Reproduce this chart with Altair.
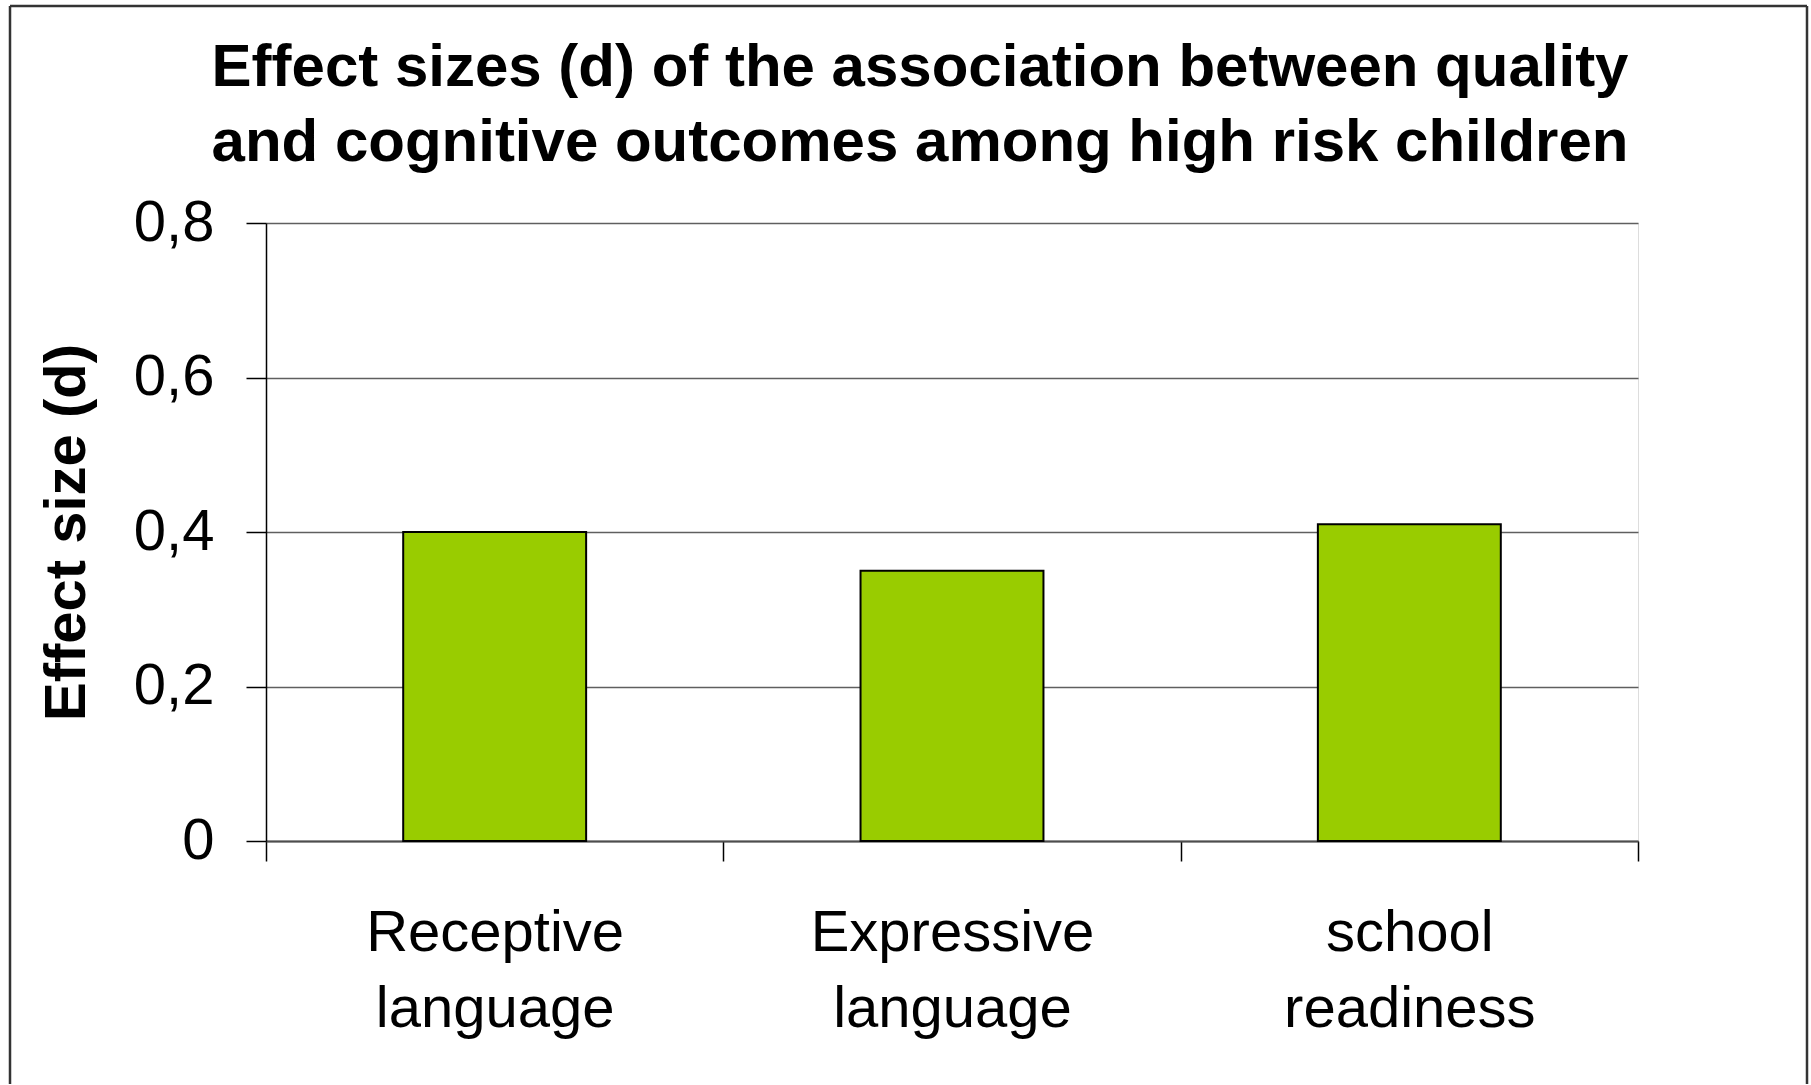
import json
import altair as alt
import pandas as pd

# Effect sizes (d) per cognitive outcome
outcomes = ["Receptive language", "Expressive language", "school readiness"]
label_lines = [["Receptive", "language"], ["Expressive", "language"], ["school", "readiness"]]
effect_sizes = [0.40, 0.35, 0.41]
y_ticks = [0, 0.2, 0.4, 0.6, 0.8]
title_lines = [
    "Effect sizes (d) of the association between quality",
    "and cognitive outcomes among high risk children",
]

df = pd.DataFrame({
    "outcome": outcomes,
    "idx": list(range(len(outcomes))),
    "d": effect_sizes,
})

FONT = "Liberation Sans"
W, H = 1372, 618

# category slots 0..3 on a linear scale: ticks at slot edges, labels at slot centres
slot_ticks = [i / 2 for i in range(2 * len(outcomes) + 1)]
label_expr = (
    f"datum.value % 1 == 0.5 ? {json.dumps(label_lines)}[floor(datum.value)] : ''"
)

x_axis = alt.Axis(
    values=slot_ticks,
    labelExpr=label_expr,
    title=None,
    grid=False,
    domainColor="#4d4d4d",
    domainWidth=2,
    tickColor="black",
    tickWidth=1.5,
    tickSize=20,
    tickOpacity={"condition": {"test": "datum.value % 1 == 0.5", "value": 0}, "value": 1},
    labelFont=FONT,
    labelFontSize=58,
    labelColor="black",
    labelLineHeight=76,
    labelPadding=43,
    labelLimit=0,
    labelFlush=False,
    labelOverlap=False,
)

y_axis = alt.Axis(
    values=y_ticks,
    labelExpr="replace(format(datum.value, '.1~f'), '.', ',')",
    title="Effect size (d)",
    titleFont=FONT,
    titleFontSize=58,
    titleFontWeight="bold",
    titleColor="black",
    titlePadding=37,
    grid=True,
    gridColor="#5f5f5f",
    gridWidth=1.3,
    domainColor="black",
    domainWidth=1.5,
    tickColor="black",
    tickWidth=1.5,
    tickSize=20,
    labelFont=FONT,
    labelFontSize=58,
    labelColor="black",
    labelPadding=32,
    labelLimit=0,
    labelFlush=False,
)

bars = (
    alt.Chart(df)
    .transform_calculate(x0="datum.idx + 0.3", x1="datum.idx + 0.7", base="0")
    .mark_bar(color="#99CC00", stroke="black", strokeWidth=2)
    .encode(
        x=alt.X("x0:Q", scale=alt.Scale(domain=[0, len(outcomes)], nice=False, zero=False), axis=x_axis),
        x2="x1:Q",
        y=alt.Y("d:Q", scale=alt.Scale(domain=[0, 0.8], nice=False), axis=y_axis),
        y2="base:Q",
        tooltip=["outcome", "d"],
    )
)

one = pd.DataFrame({"k": [0]})

# two-line chart heading
heading = alt.Chart(one).mark_text(
    text=title_lines,
    font=FONT,
    fontSize=60,
    fontWeight="bold",
    color="black",
    align="center",
    baseline="alphabetic",
    lineHeight=75,
).encode(x=alt.value(654), y=alt.value(-137))

# outer frame around the figure (left, top, right edges)
frame_style = dict(color="#333333", strokeWidth=2.5)
frame_left = alt.Chart(one).mark_rule(**frame_style).encode(
    x=alt.value(-256), y=alt.value(-217), y2=alt.value(861)
)
frame_top = alt.Chart(one).mark_rule(**frame_style).encode(
    x=alt.value(-256), x2=alt.value(1541), y=alt.value(-217)
)
frame_right = alt.Chart(one).mark_rule(**frame_style).encode(
    x=alt.value(1541), y=alt.value(-217), y2=alt.value(861)
)

chart = (
    alt.layer(bars, heading, frame_left, frame_top, frame_right)
    .properties(
        width=W,
        height=H,
        padding={"left": 8, "top": 4, "right": 0, "bottom": 0},
    )
    .configure_view(stroke="#808080", strokeWidth=2.5)
    .configure(background="white")
)

chart.save("out.html", embed_options={"renderer": "svg", "actions": False})
